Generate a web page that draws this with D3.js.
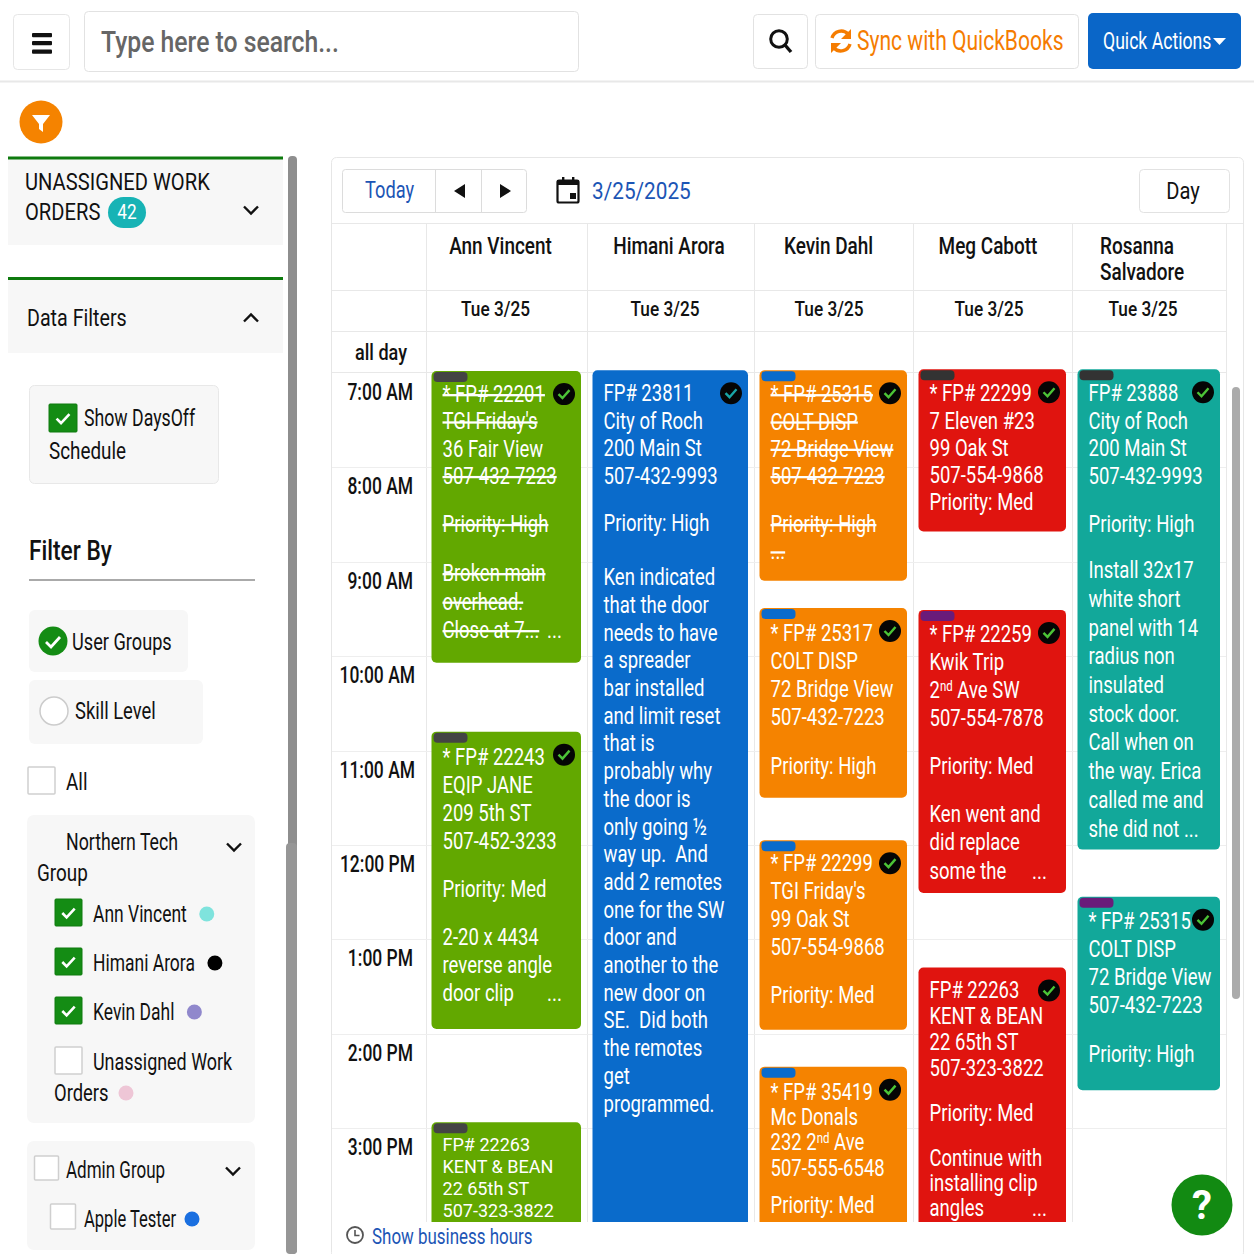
<!DOCTYPE html>
<html>
<head>
<meta charset="utf-8">
<script src="https://cdn.jsdelivr.net/npm/d3@7"></script>
<style>
  html, body { margin: 0; padding: 0; background: #fff; overflow: hidden; }
  text { font-family: Roboto, "Noto Sans", sans-serif; white-space: pre; }
</style>
</head>
<body>
<div id="chart"></div>
<script>
// calendar content
const hourValues = [7, 8, 9, 10, 11, 12, 13, 14, 15];
const hourLabels = ["7:00 AM", "8:00 AM", "9:00 AM", "10:00 AM", "11:00 AM", "12:00 PM", "1:00 PM", "2:00 PM", "3:00 PM"];
const resources = ["Ann Vincent", "Himani Arora", "Kevin Dahl", "Meg Cabott", "Rosanna Salvadore"];
const eventResource = [0, 0, 0, 1, 2, 2, 2, 2, 3, 3, 3, 4, 4];
const eventStart = [6.98, 10.8, 14.94, 6.97, 6.97, 9.49, 11.95, 14.35, 6.96, 9.51, 13.3, 6.96, 12.55];
const eventEnd = [10.07, 13.95, 17, 17, 9.2, 11.5, 13.96, 17, 8.68, 12.51, 17, 12.05, 14.6];
const eventColor = ["#62a800", "#62a800", "#62a800", "#0a6bcb", "#f58300", "#f58300", "#f58300", "#f58300", "#e0140f", "#e0140f", "#e0140f", "#12a89a", "#12a89a"];
const eventTag = ["#444", "#444", "#444", null, "#0a6bcb", "#0a6bcb", "#0a6bcb", "#0a6bcb", "#333", "#6a1b7a", null, "#333", "#6a1b7a"];
const eventDone = [1, 1, 0, 1, 1, 1, 1, 1, 1, 1, 1, 1, 1];
// ~ strikes a line, "" is a paragraph gap, | pushes the rest to the right edge, ^ marks superscript
const eventLines = [
  ["~* FP# 22201", "~TGI Friday's", "36 Fair View", "~507-432-7223", "", "~Priority: High", "", "~Broken main", "~overhead.", "~Close at 7...|..."],
  ["* FP# 22243", "EQIP JANE", "209 5th ST", "507-452-3233", "", "Priority: Med", "", "2-20 x 4434", "reverse angle", "door clip|..."],
  ["FP# 22263", "KENT & BEAN", "22 65th ST", "507-323-3822"],
  ["FP# 23811", "City of Roch", "200 Main St", "507-432-9993", "", "Priority: High", "", "Ken indicated", "that the door", "needs to have", "a spreader", "bar installed", "and limit reset", "that is", "probably why", "the door is", "only going ½", "way up.  And", "add 2 remotes", "one for the SW", "door and", "another to the", "new door on", "SE.  Did both", "the remotes", "get", "programmed."],
  ["~* FP# 25315", "~COLT DISP", "~72 Bridge View", "~507-432-7223", "", "~Priority: High", "~..."],
  ["* FP# 25317", "COLT DISP", "72 Bridge View", "507-432-7223", "", "Priority: High"],
  ["* FP# 22299", "TGI Friday's", "99 Oak St", "507-554-9868", "", "Priority: Med"],
  ["* FP# 35419", "Mc Donals", "232 2^nd^ Ave", "507-555-6548", "", "Priority: Med"],
  ["* FP# 22299", "7 Eleven #23", "99 Oak St", "507-554-9868", "Priority: Med"],
  ["* FP# 22259", "Kwik Trip", "2^nd^ Ave SW", "507-554-7878", "", "Priority: Med", "", "Ken went and", "did replace", "some the|..."],
  ["FP# 22263", "KENT & BEAN", "22 65th ST", "507-323-3822", "", "Priority: Med", "", "Continue with", "installing clip", "angles|..."],
  ["FP# 23888", "City of Roch", "200 Main St", "507-432-9993", "", "Priority: High", "", "Install 32x17", "white short", "panel with 14", "radius non", "insulated", "stock door.", "Call when on", "the way. Erica", "called me and", "she did not ..."],
  ["* FP# 25315", "COLT DISP", "72 Bridge View", "507-432-7223", "", "Priority: High"]
];
const techNames = ["Ann Vincent", "Himani Arora", "Kevin Dahl"];
const techDots = ["#7fe3dd", "#000", "#9088cc"];

const W = 1254, H = 1254;
const svg = d3.select("#chart").append("svg").attr("width", W).attr("height", H).style("display", "block");

const y = d3.scaleLinear().domain([7, 15]).range([373, 1128]);
const colEdges = [426, 587, 754, 913, 1072, 1226];
const colIndex = d3.range(resources.length);

// text spacing per event: first line offset, head leading, gap 1, gap 2, body leading
const eventSpacing = [
  [23, 27.3, 20.7, 21.8, 28.5],
  [25, 28, 20, 20, 28],
  [22, 22, 0, 0, 22],
  [23, 27.5, 20, 26.5, 27.7],
  [24, 27.3, 20.7, 20, 27.3],
  [25, 28, 21, 20, 28],
  [22.5, 28, 20, 20, 28],
  [25, 25.3, 11.7, 0, 25.3],
  [24, 27.3, 0, 0, 27.3],
  [24.5, 28, 19.5, 20, 28.5],
  [22, 26, 19, 19, 25],
  [24, 27.6, 20, 19, 28.7],
  [24.5, 28, 21, 20, 28]
];

function box(g, x0, y0, w, h, fill, stroke, r) {
  return g.append("rect").attr("x", x0).attr("y", y0).attr("width", w).attr("height", h)
    .attr("rx", r === undefined ? 4 : r)
    .attr("fill", fill || "none").attr("stroke", stroke || "none");
}

// condensed look: Roboto squeezed horizontally. cy is the visual centre of the line
function label(g, x0, cy, str, o) {
  o = o || {};
  const size = o.size || 23, sx = o.sx || 0.82;
  const t = g.append("text")
    .attr("transform", "translate(" + x0 + "," + (cy + size * 0.35) + ") scale(" + sx + ",1)")
    .attr("font-size", size)
    .attr("font-weight", o.weight || 400)
    .attr("fill", o.fill || "#111")
    .attr("text-anchor", o.anchor || "start");
  if (o.strike) t.attr("text-decoration", "line-through");
  str.split("^").forEach((part, i) => {
    const s = t.append("tspan").text(part);
    if (i % 2) s.attr("font-size", size * 0.62).attr("dy", -size * 0.33);
    else if (i > 0) s.attr("dy", size * 0.33);
  });
  return t;
}

function chevron(g, cx, cy, up) {
  const d = up ? -1 : 1;
  g.append("path").attr("d", d3.line()([[cx - 7, cy - 3.5 * d], [cx, cy + 3.5 * d], [cx + 7, cy - 3.5 * d]]))
    .attr("fill", "none").attr("stroke", "#111").attr("stroke-width", 2.4);
}

function checkbox(g, x0, y0, s, on) {
  if (on) {
    box(g, x0, y0, s, s, "#148c14", "#0e7a0e", 1);
    g.append("path").attr("d", d3.line()([[x0 + s * .27, y0 + s * .52], [x0 + s * .43, y0 + s * .68], [x0 + s * .73, y0 + s * .36]]))
      .attr("fill", "none").attr("stroke", "#fff").attr("stroke-width", 2.6);
  } else {
    box(g, x0, y0, s, s, "#fff", "#cfcfcf", 1).attr("stroke-width", 1.5);
  }
}

function dot(g, cx, cy, color) {
  g.append("circle").attr("cx", cx).attr("cy", cy).attr("r", 7.5).attr("fill", color);
}

// ---- top bar
const topBar = svg.append("g");
topBar.append("line").attr("x1", 0).attr("x2", W).attr("y1", 81.5).attr("y2", 81.5).attr("stroke", "#e8e8e8").attr("stroke-width", 2);
box(topBar, 13.5, 14.5, 56, 55, "#fff", "#e6e6e6");
[33, 41, 49.5].forEach(v => topBar.append("rect").attr("x", 32).attr("y", v).attr("width", 20).attr("height", 4.2).attr("rx", 1).attr("fill", "#111"));
box(topBar, 84.5, 11.5, 494, 60, "#fff", "#e2e2e2");
label(topBar, 101, 41, "Type here to search...", { size: 30, fill: "#666", weight: 500, sx: 0.825 });
box(topBar, 753.5, 14.5, 54, 54, "#fff", "#e2e2e2");
topBar.append("circle").attr("cx", 779).attr("cy", 39).attr("r", 8.3).attr("fill", "none").attr("stroke", "#111").attr("stroke-width", 3);
topBar.append("line").attr("x1", 785).attr("y1", 45).attr("x2", 791).attr("y2", 52).attr("stroke", "#111").attr("stroke-width", 3.4);
box(topBar, 815.5, 14.5, 263, 54, "#fff", "#e2e2e2");
// sync icon
topBar.append("path").attr("d", "M832 38 A9.5 9.5 0 0 1 848 34 M850 44 A9.5 9.5 0 0 1 834 48")
  .attr("fill", "none").attr("stroke", "#f57c00").attr("stroke-width", 3.4);
topBar.append("path").attr("d", "M851 29 v10 h-10 Z M831 53 v-10 h10 Z").attr("fill", "#f57c00");
label(topBar, 857, 41, "Sync with QuickBooks", { size: 27, fill: "#f57c00", sx: 0.78 });
box(topBar, 1088, 13, 153, 56, "#0a66c8", null, 5);
label(topBar, 1103, 41, "Quick Actions", { size: 24, fill: "#fff", sx: 0.735 });
topBar.append("path").attr("d", "M1213 38 h13 l-6.5 7 Z").attr("fill", "#fff");

// filter button
svg.append("circle").attr("cx", 41).attr("cy", 122).attr("r", 21.5).attr("fill", "#f58300");
svg.append("path").attr("d", "M32 115 h18 l-7 9 v8 l-4 -3 v-5 Z").attr("fill", "#fff");

// ---- side panel
const side = svg.append("g");
box(side, 8, 158, 275, 87, "#f7f7f7", null, 0);
side.append("rect").attr("x", 8).attr("y", 156.5).attr("width", 275).attr("height", 3).attr("fill", "#0e7a0e");
label(side, 25, 182, "UNASSIGNED WORK", { size: 24, sx: 0.84 });
label(side, 25, 212, "ORDERS", { size: 24, sx: 0.84 });
box(side, 108, 197, 38, 31, "#17b3b5", null, 15.5);
label(side, 127, 212, "42", { size: 21, fill: "#fff", anchor: "middle" });
chevron(side, 251, 210);

box(side, 8, 279, 275, 74, "#f7f7f7", null, 0);
side.append("rect").attr("x", 8).attr("y", 277).attr("width", 275).attr("height", 3).attr("fill", "#0e7a0e");
label(side, 27, 318, "Data Filters", { size: 24, sx: 0.82 });
chevron(side, 251, 318, true);

box(side, 29.5, 385.5, 189, 98, "#f7f7f7", "#e8e8e8", 5);
checkbox(side, 49, 404, 28, true);
label(side, 84, 418, "Show DaysOff", { size: 23, sx: 0.77 });
label(side, 49, 451, "Schedule", { size: 23, sx: 0.82 });

label(side, 29, 551, "Filter By", { size: 27, weight: 500, sx: 0.84 });
side.append("rect").attr("x", 29).attr("y", 579).attr("width", 226).attr("height", 2).attr("fill", "#aaa");

box(side, 29, 610, 159, 62, "#f7f7f7", null, 6);
side.append("circle").attr("cx", 53).attr("cy", 641).attr("r", 14.5).attr("fill", "#148c14");
side.append("path").attr("d", "M46 642 l5 5 l9 -10").attr("fill", "none").attr("stroke", "#fff").attr("stroke-width", 2.8);
label(side, 72, 642, "User Groups", { size: 23, sx: 0.79 });
box(side, 29, 680, 174, 64, "#f7f7f7", null, 6);
side.append("circle").attr("cx", 54).attr("cy", 711).attr("r", 14).attr("fill", "#fff").attr("stroke", "#ccc").attr("stroke-width", 1.5);
label(side, 75, 711, "Skill Level", { size: 23, sx: 0.8 });

checkbox(side, 28, 767, 27, false);
label(side, 66, 782, "All", { size: 23, sx: 0.82 });

box(side, 27, 815, 228, 308, "#f7f7f7", null, 7);
label(side, 66, 842, "Northern Tech", { size: 23, sx: 0.77 });
label(side, 37, 873, "Group", { size: 23, sx: 0.82 });
chevron(side, 234, 847);
techNames.forEach((name, i) => {
  const cy = 914 + i * 49;
  checkbox(side, 55, cy - 15, 27, true);
  const t = label(side, 93, cy, name, { size: 23, sx: 0.76 });
  dot(side, 93 + t.node().getBBox().width * 0.76 + 20, cy, techDots[i]);
});
checkbox(side, 55, 1047, 27, false);
label(side, 93, 1062, "Unassigned Work", { size: 23, sx: 0.78 });
label(side, 54, 1093, "Orders", { size: 23, sx: 0.8 });
dot(side, 126, 1093, "#eec6d6");

box(side, 27, 1141, 228, 109, "#f7f7f7", null, 7);
checkbox(side, 34.5, 1156, 24, false);
label(side, 66, 1170, "Admin Group", { size: 23, sx: 0.74 });
chevron(side, 233, 1171);
checkbox(side, 50.5, 1204, 25, false);
label(side, 84, 1219, "Apple Tester", { size: 23, sx: 0.72 });
dot(side, 192, 1219, "#1a6fe0");

side.append("rect").attr("x", 288).attr("y", 156).attr("width", 9).attr("height", 1098).attr("rx", 4).attr("fill", "#8e8e8e");
side.append("rect").attr("x", 286).attr("y", 843).attr("width", 11).attr("height", 411).attr("rx", 4).attr("fill", "#969696");

// ---- calendar
const cal = svg.append("g");
box(cal, 331.5, 157.5, 912, 1100, "#fff", "#e6e6e6", 5);

box(cal, 342.5, 169.5, 184, 43, "#fff", "#dcdcdc", 3);
[435, 481].forEach(v => cal.append("line").attr("x1", v + .5).attr("x2", v + .5).attr("y1", 170).attr("y2", 212).attr("stroke", "#dcdcdc"));
label(cal, 365, 190, "Today", { size: 24, fill: "#1c55b5", sx: 0.76 });
cal.append("path").attr("d", "M465 184 v14 l-11 -7 Z M500 184 v14 l11 -7 Z").attr("fill", "#111");
box(cal, 557.5, 180.5, 21, 22, "none", "#111", 1.5).attr("stroke-width", 2.2);
cal.append("rect").attr("x", 557).attr("y", 180).attr("width", 22).attr("height", 5).attr("fill", "#111");
cal.append("rect").attr("x", 562).attr("y", 177).attr("width", 2.4).attr("height", 5).attr("fill", "#111");
cal.append("rect").attr("x", 572).attr("y", 177).attr("width", 2.4).attr("height", 5).attr("fill", "#111");
cal.append("rect").attr("x", 570).attr("y", 193).attr("width", 6).attr("height", 6).attr("fill", "#111");
label(cal, 592, 191, "3/25/2025", { size: 24, fill: "#1c55b5", sx: 0.865 });
box(cal, 1139.5, 169.5, 90, 43, "#fff", "#e2e2e2", 4);
label(cal, 1183, 191, "Day", { size: 24, anchor: "middle", sx: 0.84 });

// grid rows and columns
const grid = cal.append("g").attr("stroke", "#e8e8e8");
[223.5, 290.5, 331.5, 372.5].forEach(v => grid.append("line").attr("x1", 332).attr("x2", v < 224 ? 1243 : 1226).attr("y1", v).attr("y2", v));
grid.selectAll("line.col").data(colEdges).join("line").attr("class", "col")
  .attr("x1", d => d + .5).attr("x2", d => d + .5).attr("y1", 224).attr("y2", 1222);
grid.selectAll("line.hour").data(hourValues.slice(1)).join("line").attr("class", "hour")
  .attr("x1", 332).attr("x2", 1226)
  .attr("y1", d => Math.round(y(d)) + .5).attr("y2", d => Math.round(y(d)) + .5)
  .attr("stroke", "#eeeeee");

// headers
const nameShift = [-6, -1.5, -5, -4.5, 0];
const dateShift = [-11, -5.5, -4.5, -3.5, -6];
colIndex.forEach(i => {
  const mid = (colEdges[i] + colEdges[i + 1]) / 2;
  const name = resources[i];
  if (name === "Rosanna Salvadore") {
    const parts = name.split(" ");
    label(cal, 1100, 246, parts[0], { size: 24, weight: 500, sx: 0.79 });
    label(cal, 1100, 272, parts[1], { size: 24, weight: 500, sx: 0.79 });
  } else {
    label(cal, mid + nameShift[i], 246, name, { size: 24, weight: 500, sx: 0.79, anchor: "middle" });
  }
  label(cal, mid + dateShift[i], 309, "Tue 3/25", { size: 21, weight: 500, sx: 0.82, anchor: "middle" });
});
label(cal, 355, 352, "all day", { size: 22, weight: 500, sx: 0.82 });
hourValues.forEach((h, i) => {
  label(cal, hourLabels[i].length > 7 ? 415 : 413, y(h) + 19, hourLabels[i], { size: 23, weight: 500, sx: 0.76, anchor: "end" });
});

// events, clipped to the scroll area
svg.append("clipPath").attr("id", "scroll").append("rect").attr("x", 332).attr("y", 360).attr("width", 894).attr("height", 862);
const ev = svg.append("g").attr("clip-path", "url(#scroll)");
eventLines.forEach((lines, i) => {
  const c = eventResource[i];
  const x0 = colEdges[c] + 5.5, x1 = colEdges[c + 1] - 6;
  const y0 = y(eventStart[i]), y1 = y(eventEnd[i]);
  const g = ev.append("g");
  box(g, x0, y0, x1 - x0, y1 - y0, eventColor[i], null, 5);
  if (eventTag[i]) box(g, x0 + 2, y0 + 1, 34, 10, eventTag[i], null, 4);
  if (eventDone[i]) {
    const cx = x1 - 17, cy = y0 + 23;
    g.append("circle").attr("cx", cx).attr("cy", cy).attr("r", 11).attr("fill", "#050505");
    g.append("path").attr("d", d3.line()([[cx - 5.5, cy], [cx - 1.5, cy + 4], [cx + 5.5, cy - 4]]))
      .attr("fill", "none").attr("stroke", c === 1 ? "#19a5a5" : "#4cc437").attr("stroke-width", 2.4);
  }
  const sp = eventSpacing[i];
  const tight = sp[1] < 24;
  const textStyle = tight ? { size: 18.7, sx: 0.965 } : { size: 23, sx: 0.805 };
  let ly = y0 + sp[0], gaps = 0;
  lines.forEach(line => {
    if (line === "") { gaps++; ly += sp[gaps + 1]; return; }
    const strike = line[0] === "~";
    const parts = (strike ? line.slice(1) : line).split("|");
    label(g, x0 + 11, ly, parts[0], { size: textStyle.size, fill: "#fff", sx: textStyle.sx, strike: strike });
    if (parts[1]) label(g, x1 - 19, ly, parts[1], { size: 23, fill: "#fff", anchor: "end" });
    ly += gaps === 2 ? sp[4] : sp[1];
  });
});

// right scrollbar
cal.append("rect").attr("x", 1232).attr("y", 387).attr("width", 8).attr("height", 612).attr("rx", 4).attr("fill", "#ababab");

// footer
cal.append("rect").attr("x", 332).attr("y", 1222).attr("width", 900).attr("height", 32).attr("fill", "#fff");
cal.append("circle").attr("cx", 355).attr("cy", 1235).attr("r", 8).attr("fill", "none").attr("stroke", "#555").attr("stroke-width", 1.8);
cal.append("path").attr("d", "M355 1230 v5.5 h4.5").attr("fill", "none").attr("stroke", "#555").attr("stroke-width", 1.6);
label(cal, 372, 1236, "Show business hours", { size: 22, fill: "#1c55b5", sx: 0.77 });

// help bubble
svg.append("circle").attr("cx", 1202).attr("cy", 1205).attr("r", 30.5).attr("fill", "#128a12");
label(svg, 1202, 1205, "?", { size: 40, weight: 700, fill: "#fff", anchor: "middle", sx: 1 });
</script>
</body>
</html>
